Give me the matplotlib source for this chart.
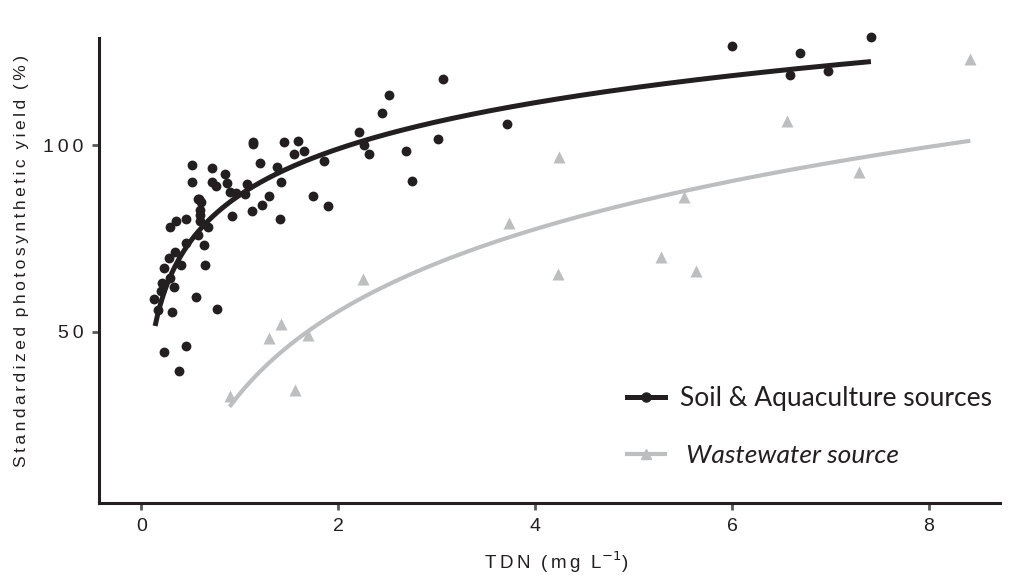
import matplotlib
matplotlib.use("Agg")
import matplotlib.pyplot as plt
from matplotlib.lines import Line2D
import numpy as np

# soil & aquaculture sources (black dots)
soil_x = [0.59, 0.61, 0.60, 0.60, 0.60, 0.287, 0.355, 0.450, 0.921, 1.120, 1.221, 1.411, 1.891,
          0.673, 0.572, 0.632, 0.450, 0.338, 0.281, 0.403, 0.650, 0.234, 0.287, 0.210, 0.200,
          0.335, 0.132, 0.170, 0.312, 0.551, 0.769, 0.234, 0.457, 0.379, 0.515, 0.515, 0.721,
          0.721, 0.754, 0.853, 0.870, 0.896, 0.961, 1.049, 1.073, 0.572, 1.299, 1.201, 1.137,
          1.130, 1.378, 1.421, 1.445, 1.546, 1.587, 1.652, 1.739, 1.851, 2.210, 2.264, 2.312,
          2.444, 2.511, 3.059, 2.690, 3.012, 2.751, 3.709, 5.997, 6.687, 6.586, 6.978, 7.411]
soil_y = [85.5, 84.8, 82.7, 81.3, 79.6, 78.2, 79.8, 80.2, 81.1, 82.4, 84.0, 80.2, 83.8,
          78.0, 75.9, 73.3, 73.7, 71.5, 69.9, 67.9, 67.9, 67.0, 64.3, 63.0, 61.0,
          61.9, 58.7, 55.8, 55.3, 59.2, 56.0, 44.6, 46.2, 39.5, 94.8, 90.1, 94.0,
          90.3, 89.1, 92.3, 89.8, 87.6, 87.2, 87.0, 89.7, 85.6, 86.5, 95.4, 101.0,
          100.4, 94.1, 90.2, 101.0, 97.7, 101.3, 98.6, 86.5, 95.8, 103.7, 100.1, 97.7,
          108.7, 113.6, 118.0, 98.6, 101.7, 90.4, 105.9, 126.8, 124.9, 119.0, 120.1, 129.2]

# wastewater source (grey triangles)
waste_x = [0.896, 1.299, 1.421, 1.688, 1.560, 2.251, 3.739, 4.247, 4.231, 5.276, 5.513,
           5.638, 6.555, 7.286, 8.416]
waste_y = [32.7, 48.2, 52.0, 49.1, 34.3, 64.0, 79.2, 97.0, 65.5, 70.1, 86.1,
           66.3, 106.7, 93.0, 123.3]

# logarithmic fits y = a + b*ln(x)
soil_fit = (86.7, 17.9)
soil_range = (0.14, 7.41)
waste_fit = (33.3, 31.9)
waste_range = (0.896, 8.42)

black = "#231f20"
grey = "#bcbec0"
ts = "\u2009"  # thin space for the letter-spaced labels
lab_font = ["Liberation Sans Narrow", "Liberation Sans", "DejaVu Sans"]

fig = plt.figure(figsize=(10.1, 5.75), dpi=100)
ax = fig.add_axes([0.098, 0.125, 0.892, 0.809])

xs = np.linspace(soil_range[0], soil_range[1], 300)
ax.plot(xs, soil_fit[0] + soil_fit[1] * np.log(xs), color=black, lw=3.6,
        solid_capstyle="butt", zorder=3)
xw = np.linspace(waste_range[0], waste_range[1], 300)
ax.plot(xw, waste_fit[0] + waste_fit[1] * np.log(xw), color=grey, lw=3.0,
        solid_capstyle="butt", zorder=2)

ax.scatter(soil_x, soil_y, s=50, color=black, marker="o", lw=0, zorder=4, clip_on=False)
ax.scatter(waste_x, waste_y, s=75, color=grey, marker="^", lw=0, zorder=2, clip_on=False)

ax.set_xlim(-0.43, 8.72)
ax.set_ylim(3.9, 128.9)

for s in ["top", "right"]:
    ax.spines[s].set_visible(False)
for s in ["left", "bottom"]:
    ax.spines[s].set_linewidth(2.2)
    ax.spines[s].set_color(black)

ax.set_xticks([0, 2, 4, 6, 8])
ax.set_xticklabels(["0", "2", "4", "6", "8"])
ax.set_yticks([50, 100])
ax.set_yticklabels(["5" + ts + "0", "1" + ts + "0" + ts + "0"])
ax.tick_params(length=5, width=2, color="#58595b", labelcolor=black, labelsize=14, pad=6)
for t in ax.get_xticklabels() + ax.get_yticklabels():
    t.set_family(lab_font)

ylab = ts.join("Standardized photosynthetic yield (%)").replace(ts + " " + ts, "  ")
ax.set_ylabel(ylab, family=lab_font, fontsize=12.5, color=black)
ax.yaxis.set_label_coords(-0.078, 0.52)
xlab = ts.join("TDN (mg L") + "$^{-1}$)"
ax.set_xlabel(xlab.replace(ts + " " + ts, "  "), family=lab_font, fontsize=13.5,
              color=black)
ax.xaxis.set_label_coords(0.507, -0.1)

handles = [Line2D([], [], color=black, lw=3.6, marker="o", markersize=6.5),
           Line2D([], [], color=grey, lw=3.0, marker="^", markersize=7)]
leg = ax.legend(handles, ["Soil & Aquaculture sources", " Wastewater source"],
                loc="upper left", bbox_to_anchor=(0.586, 0.252), frameon=False,
                prop={"family": "Lato", "size": 19}, handlelength=1.45,
                handletextpad=0.55, labelspacing=1.25, borderpad=0, borderaxespad=0)
leg.get_texts()[1].set_fontstyle("italic")
for t in leg.get_texts():
    t.set_color(black)

fig.savefig("out.png", dpi=100)
